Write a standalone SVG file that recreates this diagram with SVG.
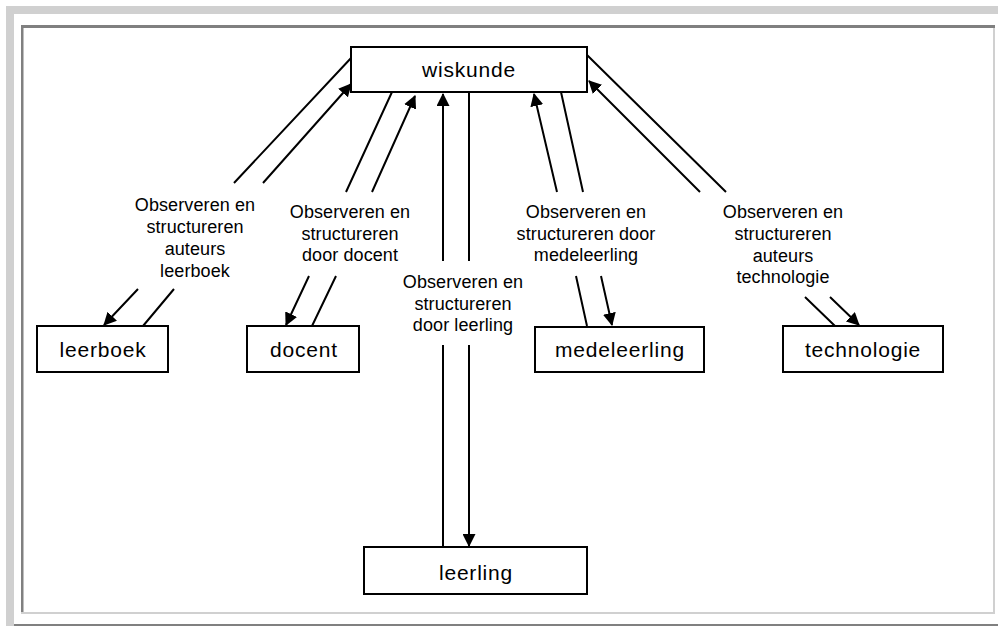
<svg xmlns="http://www.w3.org/2000/svg" width="998" height="626" viewBox="0 0 998 626">
<defs>
<style>
.frameL{fill:#d0d0d0}
.frameD{fill:#808080}
.box{fill:#fff;stroke:#000;stroke-width:2}
.bt{font-family:"Liberation Sans",Arial,sans-serif;font-size:21px;letter-spacing:0.8px;text-anchor:middle;fill:#000}
.lb{font-family:"Liberation Sans",Arial,sans-serif;font-size:18px;letter-spacing:0.1px;text-anchor:middle;fill:#000}
.c{fill:none;stroke:#000;stroke-width:2}
.a{marker-end:url(#arr)}
</style>
<marker id="arr" viewBox="0 0 13 13" refX="12" refY="6.5" markerWidth="13" markerHeight="13" markerUnits="userSpaceOnUse" orient="auto">
<path d="M0,0 L13,6.5 L0,13 z" fill="#000"/>
</marker>
</defs>
<rect width="998" height="626" fill="#fff"/>
<g id="frame">
<rect class="frameL" x="6" y="6" width="992" height="8"/>
<rect class="frameL" x="6" y="6" width="8" height="620"/>
<rect class="frameD" x="14" y="624" width="984" height="2"/>
<rect class="frameD" x="21" y="25" width="974" height="3"/>
<rect class="frameD" x="21" y="25" width="2.5" height="587"/>
<rect class="frameL" x="993" y="28" width="2" height="586"/>
<rect class="frameL" x="21" y="612" width="974" height="2"/>
</g>
<g id="connectors">
<path class="c a" d="M352,57 L234,183 M138,289 L104,325"/>
<path class="c a" d="M143,326 L174,289 M263,183 L351,84"/>
<path class="c a" d="M392,92 L346,192 M309,276 L286,325"/>
<path class="c a" d="M312,326 L336,276 M372,192 L415,96"/>
<path class="c a" d="M443,547 L443,345 M443,261 L443,94"/>
<path class="c a" d="M469,92 L469,261 M469,345 L469,546"/>
<path class="c a" d="M561,92 L583,192 M601,276 L612,325"/>
<path class="c a" d="M587,326 L576,276 M557,192 L534,94"/>
<path class="c a" d="M587,55 L726,192 M830,297 L859,325"/>
<path class="c a" d="M835,326 L805,297 M700,192 L589,81"/>
</g>
<g id="labels">
<text class="lb" x="195" y="211">Observeren en<tspan x="195" y="233">structureren</tspan><tspan x="195" y="255">auteurs</tspan><tspan x="195" y="277">leerboek</tspan></text>
<text class="lb" x="350" y="218">Observeren en<tspan x="350" y="240">structureren</tspan><tspan x="350" y="261">door docent</tspan></text>
<text class="lb" x="463" y="288">Observeren en<tspan x="463" y="310">structureren</tspan><tspan x="463" y="331">door leerling</tspan></text>
<text class="lb" x="586" y="218">Observeren en<tspan x="586" y="240">structureren door</tspan><tspan x="586" y="261">medeleerling</tspan></text>
<text class="lb" x="783" y="218">Observeren en<tspan x="783" y="240">structureren</tspan><tspan x="783" y="262">auteurs</tspan><tspan x="783" y="283">technologie</tspan></text>
</g>
<g id="wiskunde"><rect class="box" x="351" y="47" width="236" height="45"/><text class="bt" x="469" y="77">wiskunde</text></g>
<g id="leerboek"><rect class="box" x="37" y="326" width="131" height="46"/><text class="bt" x="103" y="357">leerboek</text></g>
<g id="docent"><rect class="box" x="247" y="326" width="112" height="46"/><text class="bt" x="304" y="357">docent</text></g>
<g id="medeleerling"><rect class="box" x="535" y="327" width="169" height="45"/><text class="bt" x="620" y="357">medeleerling</text></g>
<g id="technologie"><rect class="box" x="783" y="326" width="160" height="46"/><text class="bt" x="863" y="357">technologie</text></g>
<g id="leerling"><rect class="box" x="364" y="547" width="223" height="47"/><text class="bt" x="476" y="580">leerling</text></g>
</svg>
